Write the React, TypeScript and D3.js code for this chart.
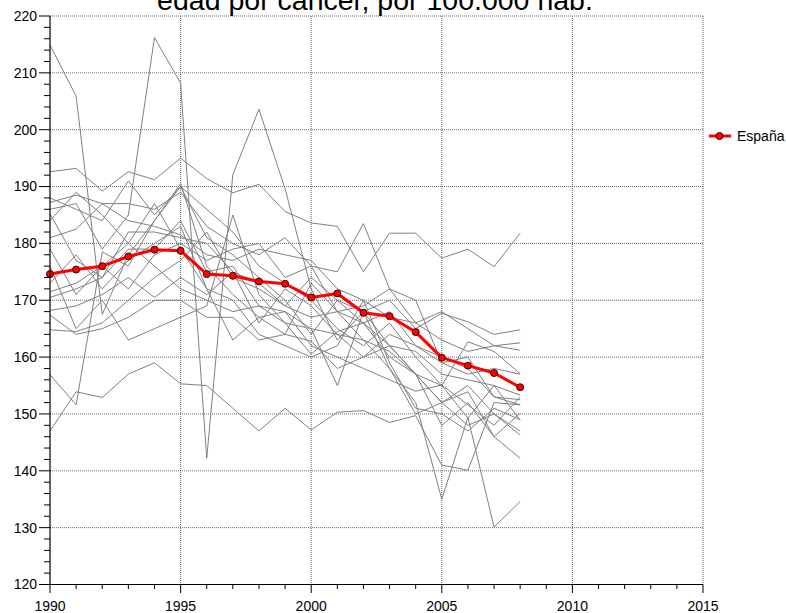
import React from "react";
import * as d3 from "d3";

const years = d3.range(1990, 2009);
const espana = [174.6, 175.4, 176.0, 177.7, 178.9, 178.7, 174.6, 174.3, 173.3, 172.9, 170.5, 171.2, 167.8, 167.2, 164.4, 159.9, 158.5, 157.2, 154.7];

const g01 = [192.6, 193.2, 189.2, 192.6, 191.2, 195.0, 191.4, 188.9, 190.4, 185.6, 183.6, 183.0, 175.0, 181.8, 181.8, 177.4, 179.0, 175.9, 181.8];
const g02 = [186, 187, 179, 185, 216.2, 208.2, 142.2, 192.1, 203.6, 189.6, 172, 163, 168, 162, 157, 152, 155, 150, 147];
const g03 = [214.9, 205.9, 167.5, 178, 184, 190, 181, 178, 174, 170, 164, 170, 166, 160, 157, 148, 152, 146, 142.2];
const g04 = [147, 153.9, 152.9, 157.0, 159.0, 155.3, 155.0, 151.0, 147.0, 151.0, 147.2, 150.3, 150.6, 148.5, 149.7, 141.0, 140.1, 152, 151.6];
const g05 = [156.9, 151.6, 178.5, 176, 184, 190.5, 176, 171, 167, 164, 173, 168, 163, 158, 152, 135.0, 149.4, 130.1, 134.6];
const g06 = [188, 186, 184, 191, 185, 190, 186, 182, 176, 173, 170, 165, 162, 166, 160, 155, 162.7, 161, 157.1];
const g07 = [185.2, 177, 174, 179, 179, 184, 175, 176, 169, 166, 160.5, 164.5, 166, 162, 161, 157, 156, 155, 153.3];
const g08 = [171.5, 173, 176, 180, 176, 172, 170, 168, 169, 168, 165, 164, 163, 161, 157, 152, 153.9, 146, 150.1];
const g09 = [168.2, 169, 171, 174, 170.5, 174, 171, 175, 173, 169, 167, 168, 166, 168, 162, 160, 158, 153, 152.5];
const g10 = [167.4, 164, 165, 167, 170, 170, 167, 167, 163, 164, 162.8, 158, 160, 162, 157, 155, 149.3, 155, 148.9];
const g11 = [164.8, 164.5, 166, 170, 174, 177, 182, 174, 172, 169, 174, 170, 168, 170, 165, 167.7, 166.2, 164, 164.8];
const g12 = [181, 182.5, 187, 187, 186, 189, 183, 180, 178, 181, 176, 175, 183.5, 172, 166, 168, 165, 162, 161.2];
const g13 = [170.5, 172, 174, 182, 182, 181, 180, 175, 166, 172, 169, 164, 160, 164, 162, 159, 160, 153, 151.6];
const g14 = [187.2, 188.5, 187, 184, 183, 181.5, 178, 177, 179, 178, 177, 172, 170, 167, 166, 163, 161, 162, 162.5];
const g15 = [179, 171, 176, 172, 178, 180, 177, 179, 180, 174, 176, 168, 169, 172, 170, 159, 157, 158, 157];
const g16 = [176, 165, 170, 163, 165, 167, 169, 185, 171, 166, 165, 155, 168, 158, 150, 152, 148, 150, 146.3];
const g17 = [173, 178, 172, 177, 180, 183, 172, 170, 164, 162, 160, 162, 170, 159, 151, 150, 147, 151, 149];
const g18 = [184, 189, 185, 180, 187, 179, 172, 163, 167, 168, 162, 160, 158, 156, 154, 155.1, 151.6, 148, 153];

const grays = [g01, g02, g03, g04, g05, g06, g07, g08, g09, g10, g11, g12, g13, g14, g15, g16, g17, g18];

const xTicks = [1990, 1995, 2000, 2005, 2010, 2015];
const yTicks = [120, 130, 140, 150, 160, 170, 180, 190, 200, 210, 220];
const titleText = "edad por cáncer, por 100.000 hab.";
const legendLabel = "España";

export default function App() {
  const W = 786, H = 613;
  const x = d3.scaleLinear().domain([1990, 2015]).range([50, 703]);
  const y = d3.scaleLinear().domain([120, 220]).range([584.5, 16]);
  const line = d3.line<number>().x((_, i) => x(years[i])).y((d) => y(d));
  const minorX = d3.range(1990, 2016).filter((v) => v % 5 !== 0);
  const minorY = d3.range(120, 221, 2).filter((v) => v % 10 !== 0);
  const font = "Arial, 'Liberation Sans', sans-serif";

  return (
    <svg width={W} height={H} style={{ position: "absolute", left: 0, top: 0, background: "#fff" }} fontFamily={font}>
      <rect x={0} y={0} width={W} height={H} fill="#fff" />
      {/* grid */}
      {yTicks.filter((v) => v !== 120).map((v) => (
        <line key={"gy" + v} x1={50} x2={703} y1={y(v)} y2={y(v)} stroke="#666" strokeWidth={1} strokeDasharray="1 1" />
      ))}
      {xTicks.filter((v) => v !== 1990).map((v) => (
        <line key={"gx" + v} x1={x(v)} x2={x(v)} y1={16} y2={584.5} stroke="#666" strokeWidth={1} strokeDasharray="1 1" />
      ))}
      {/* gray series */}
      {grays.map((s, i) => (
        <path key={"g" + i} d={line(s) || ""} fill="none" stroke="#808080" strokeWidth={1} />
      ))}
      {/* Spain */}
      <path d={line(espana) || ""} fill="none" stroke="#ff0000" strokeWidth={3} strokeLinejoin="round" />
      {espana.map((v, i) => (
        <circle key={"e" + i} cx={x(years[i])} cy={y(v)} r={3.5} fill="#ff0000" stroke="#400000" strokeWidth={1} />
      ))}
      {/* axes */}
      <line x1={50} x2={50} y1={16} y2={584.5} stroke="#000" strokeWidth={1.2} />
      <line x1={50} x2={703} y1={584.5} y2={584.5} stroke="#000" strokeWidth={1.2} />
      {yTicks.map((v) => (
        <g key={"yt" + v}>
          <line x1={39} x2={50} y1={y(v)} y2={y(v)} stroke="#000" />
          <text x={37} y={y(v)} dy="0.35em" textAnchor="end" fontSize={14} fill="#000">{v}</text>
        </g>
      ))}
      {minorY.map((v) => (
        <line key={"my" + v} x1={44} x2={50} y1={y(v)} y2={y(v)} stroke="#000" />
      ))}
      {xTicks.map((v) => (
        <g key={"xt" + v}>
          <line x1={x(v)} x2={x(v)} y1={584.5} y2={593} stroke="#000" />
          <text x={x(v)} y={611} textAnchor="middle" fontSize={14} fill="#000">{v}</text>
        </g>
      ))}
      {minorX.map((v) => (
        <line key={"mx" + v} x1={x(v)} x2={x(v)} y1={584.5} y2={589} stroke="#000" />
      ))}
      {/* title */}
      <text x={375} y={10} textAnchor="middle" fontSize={28.5} fill="#000">{titleText}</text>
      {/* legend */}
      <line x1={709} x2={731} y1={136} y2={136} stroke="#ff0000" strokeWidth={3} />
      <circle cx={719.5} cy={136} r={3.5} fill="#ff0000" stroke="#400000" strokeWidth={1} />
      <text x={737} y={141} fontSize={14} fill="#000">{legendLabel}</text>
    </svg>
  );
}
